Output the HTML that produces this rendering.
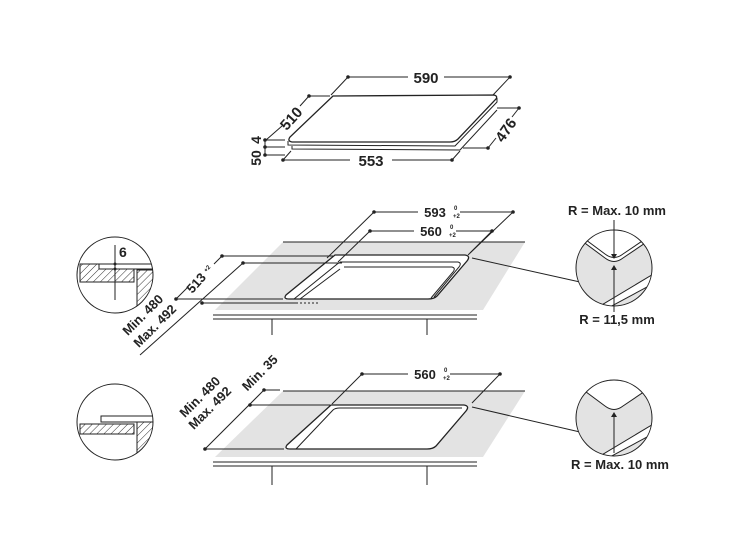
<!DOCTYPE html>
<html><head><style>body{margin:0;background:#fff}svg{display:block}text{font-family:"Liberation Sans",sans-serif;font-weight:bold;fill:#222}</style></head>
<body>
<svg width="745" height="558" viewBox="0 0 745 558" xmlns="http://www.w3.org/2000/svg">
<defs>
<pattern id="h" width="5" height="5" patternUnits="userSpaceOnUse" patternTransform="rotate(45)"><line x1="0" y1="0" x2="0" y2="5" stroke="#333" stroke-width="1"/></pattern>
<clipPath id="c1"><circle cx="115" cy="275" r="38"/></clipPath>
<clipPath id="c2"><circle cx="115" cy="422" r="38"/></clipPath>
<clipPath id="c3"><circle cx="614" cy="268" r="38"/></clipPath>
<clipPath id="c4"><circle cx="614" cy="418" r="38"/></clipPath>
</defs>
<g stroke="#222" fill="none" stroke-width="1">
<path d="M333,96 L494,95 Q498,96 496,99 L458,139 Q455,142 450,142 L292,142 Q287,141 290,137 Z" stroke-width="1.3"/>
<path d="M288,141 L288,145 L455,146 L497,102 L497,98"/>
<path d="M292,146 L292,149 L460,150 L497,110"/>
<line x1="348" y1="77" x2="408" y2="77"/><line x1="444" y1="77" x2="510" y2="77"/>
<line x1="348" y1="77" x2="331" y2="95"/><line x1="510" y1="77" x2="493" y2="95"/>
<line x1="309" y1="96" x2="330" y2="96"/><line x1="309" y1="96" x2="300" y2="106"/><line x1="282" y1="126" x2="266" y2="140"/>
<line x1="519" y1="108" x2="497" y2="108"/><line x1="519" y1="108" x2="512" y2="117"/><line x1="496" y1="138" x2="488" y2="148"/><line x1="488" y1="148" x2="463" y2="148"/>
<line x1="283" y1="160" x2="350" y2="160"/><line x1="392" y1="160" x2="452" y2="160"/>
<line x1="283" y1="160" x2="291" y2="151"/><line x1="452" y1="160" x2="460" y2="151"/>
<line x1="265" y1="140" x2="285" y2="140"/><line x1="265" y1="147" x2="285" y2="147"/><line x1="265" y1="155" x2="285" y2="155"/><line x1="265" y1="140" x2="265" y2="155"/>
</g>
<g fill="#222">
<circle cx="348" cy="77" r="1.8"/><circle cx="510" cy="77" r="1.8"/><circle cx="309" cy="96" r="1.8"/><circle cx="519" cy="108" r="1.8"/><circle cx="488" cy="148" r="1.8"/><circle cx="283" cy="160" r="1.8"/><circle cx="452" cy="160" r="1.8"/><circle cx="265" cy="140" r="1.8"/><circle cx="265" cy="147" r="1.8"/><circle cx="265" cy="155" r="1.8"/>
</g>
<text x="426" y="83" font-size="15" text-anchor="middle">590</text>
<text x="371" y="166" font-size="15" text-anchor="middle">553</text>
<text transform="translate(295,122) rotate(-48)" font-size="15" text-anchor="middle">510</text>
<text transform="translate(510,133) rotate(-55)" font-size="15" text-anchor="middle">476</text>
<text transform="translate(261,140) rotate(-90)" font-size="14" text-anchor="middle">4</text>
<text transform="translate(261,158) rotate(-90)" font-size="14" text-anchor="middle">50</text>

<polygon points="283,242 525,242 483,310 215,310" fill="#e3e3e3"/>
<g stroke="#222" fill="none" stroke-width="1">
<line x1="283" y1="242" x2="525" y2="242"/>
<line x1="213" y1="315" x2="477" y2="315"/><line x1="213" y1="319" x2="477" y2="319"/>
<line x1="272" y1="319" x2="272" y2="335"/><line x1="427" y1="319" x2="427" y2="335"/>
<path d="M335,255 L465,255 Q471,256 467,261 L437,296 Q434,299 428,299 L289,299 Q283,299 286,295 Z" fill="#fff" stroke-width="1.3"/>
<path d="M340,262 L458,262 Q462,263 459,267 L434,297 M294,299 L336,265 Q339,262 343,262"/>
<path d="M344,267 L452,267 Q456,268 453,272 L431,298 M300,299 L340,269"/>
<line x1="296" y1="303" x2="320" y2="303" stroke-dasharray="2,2"/>
<line x1="374" y1="212" x2="418" y2="212"/><line x1="460" y1="212" x2="513" y2="212"/>
<line x1="374" y1="212" x2="327" y2="258"/><line x1="513" y1="212" x2="468" y2="255"/>
<line x1="370" y1="231" x2="414" y2="231"/><line x1="456" y1="231" x2="492" y2="231"/>
<line x1="370" y1="231" x2="338" y2="262"/><line x1="492" y1="231" x2="470" y2="253"/>
<line x1="222" y1="256" x2="333" y2="256"/><line x1="176" y1="299" x2="283" y2="299"/>
<line x1="222" y1="256" x2="214" y2="264"/><line x1="188" y1="287" x2="176" y2="299"/>
<line x1="243" y1="263" x2="342" y2="263"/><line x1="202" y1="303" x2="296" y2="303"/>
<line x1="243" y1="263" x2="140" y2="355"/>
<line x1="472" y1="258" x2="580" y2="282"/>
</g>
<g fill="#222">
<circle cx="374" cy="212" r="1.8"/><circle cx="513" cy="212" r="1.8"/><circle cx="370" cy="231" r="1.8"/><circle cx="492" cy="231" r="1.8"/><circle cx="222" cy="256" r="1.8"/><circle cx="176" cy="299" r="1.8"/><circle cx="243" cy="263" r="1.8"/><circle cx="202" cy="303" r="1.8"/>
</g>
<text x="435" y="217" font-size="13" text-anchor="middle">593</text><text x="454" y="210" font-size="6">0</text><text x="453" y="218" font-size="6">+2</text>
<text x="431" y="236" font-size="13" text-anchor="middle">560</text><text x="450" y="229" font-size="6">0</text><text x="449" y="237" font-size="6">+2</text>
<text transform="translate(203,282) rotate(-48)" font-size="13" text-anchor="middle">513 <tspan font-size="6" dy="-4">+2</tspan></text>
<text transform="translate(146,318) rotate(-45)" font-size="13" text-anchor="middle">Min. 480</text>
<text transform="translate(158,329) rotate(-45)" font-size="13" text-anchor="middle">Max. 492</text>

<g clip-path="url(#c1)" stroke="#222" stroke-width="1">
<rect x="80" y="264" width="54" height="18" fill="url(#h)"/>
<rect x="99" y="264" width="55" height="5" fill="#fff"/>
<rect x="137" y="270" width="16" height="40" fill="url(#h)"/>
<line x1="115" y1="245" x2="115" y2="300"/>
</g>
<circle cx="115" cy="275" r="38" fill="none" stroke="#222"/>
<circle cx="115" cy="264" r="1.5" fill="#222"/><circle cx="115" cy="269" r="1.5" fill="#222"/>
<text x="119" y="257" font-size="14">6</text>

<g clip-path="url(#c3)">
<rect x="570" y="225" width="90" height="90" fill="#e3e3e3"/>
<path d="M570,232 L605,258 Q614,265 623,258 L660,233 L660,225 L570,225 Z" fill="#fff"/>
<path d="M585,315 L660,270 L660,280 L595,315 Z" fill="#fff"/>
<g stroke="#222" fill="none">
<path d="M570,232 L605,258 Q614,265 623,258 L660,233"/>
<path d="M570,228 L605,254 Q614,261 623,254 L660,229"/>
<line x1="585" y1="315" x2="660" y2="270"/><line x1="595" y1="315" x2="660" y2="280"/>
</g></g>
<circle cx="614" cy="268" r="38" fill="none" stroke="#222"/>
<line x1="614" y1="220" x2="614" y2="255" stroke="#222"/><polygon points="611,254 617,254 614,259" fill="#222"/>
<line x1="614" y1="268" x2="614" y2="312" stroke="#222"/><polygon points="611,270 617,270 614,265" fill="#222"/>
<text x="617" y="215" font-size="13" text-anchor="middle">R = Max. 10 mm</text>
<text x="617" y="324" font-size="13" text-anchor="middle">R = 11,5 mm</text>

<polygon points="283,391 525,391 483,457 215,457" fill="#e3e3e3"/>
<g stroke="#222" fill="none" stroke-width="1">
<line x1="283" y1="391" x2="525" y2="391"/>
<line x1="213" y1="462" x2="477" y2="462"/><line x1="213" y1="466" x2="477" y2="466"/>
<line x1="272" y1="466" x2="272" y2="485"/><line x1="427" y1="466" x2="427" y2="485"/>
<path d="M331,405 L464,405 Q470,406 466,411 L436,446 Q433,449 427,449 L290,449 Q284,449 287,445 Z" fill="#fff" stroke-width="1.3"/>
<path d="M296,449 L333,410 Q335,408 340,408 L462,408"/>
<line x1="362" y1="374" x2="408" y2="374"/><line x1="450" y1="374" x2="500" y2="374"/>
<line x1="362" y1="374" x2="332" y2="404"/><line x1="500" y1="374" x2="472" y2="403"/>
<line x1="264" y1="390" x2="280" y2="390"/><line x1="250" y1="405" x2="330" y2="405"/><line x1="205" y1="449" x2="284" y2="449"/>
<line x1="264" y1="390" x2="205" y2="449"/>
<line x1="472" y1="407" x2="580" y2="432"/>
</g>
<g fill="#222"><circle cx="362" cy="374" r="1.8"/><circle cx="500" cy="374" r="1.8"/><circle cx="264" cy="390" r="1.8"/><circle cx="250" cy="405" r="1.8"/><circle cx="205" cy="449" r="1.8"/></g>
<text x="425" y="379" font-size="13" text-anchor="middle">560</text><text x="444" y="372" font-size="6">0</text><text x="443" y="380" font-size="6">+2</text>
<text transform="translate(263,376) rotate(-45)" font-size="13" text-anchor="middle">Min. 35</text>
<text transform="translate(203,400) rotate(-45)" font-size="13" text-anchor="middle">Min. 480</text>
<text transform="translate(213,411) rotate(-45)" font-size="13" text-anchor="middle">Max. 492</text>

<g clip-path="url(#c2)" stroke="#222" stroke-width="1">
<rect x="80" y="424" width="54" height="10" fill="url(#h)"/>
<rect x="101" y="416" width="55" height="6" fill="#fff"/>
<rect x="137" y="422" width="16" height="40" fill="url(#h)"/>
</g>
<circle cx="115" cy="422" r="38" fill="none" stroke="#222"/>

<g clip-path="url(#c4)">
<rect x="570" y="375" width="90" height="90" fill="#e3e3e3"/>
<path d="M570,380 L605,406 Q614,413 623,406 L660,381 L660,375 L570,375 Z" fill="#fff"/>
<path d="M585,465 L660,420 L660,430 L595,465 Z" fill="#fff"/>
<g stroke="#222" fill="none">
<path d="M570,380 L605,406 Q614,413 623,406 L660,381"/>
<line x1="585" y1="465" x2="660" y2="420"/><line x1="595" y1="465" x2="660" y2="430"/>
</g></g>
<circle cx="614" cy="418" r="38" fill="none" stroke="#222"/>
<line x1="614" y1="415" x2="614" y2="453" stroke="#222"/><polygon points="611,417 617,417 614,412" fill="#222"/>
<text x="620" y="469" font-size="13" text-anchor="middle">R = Max. 10 mm</text>
</svg>
</body></html>
